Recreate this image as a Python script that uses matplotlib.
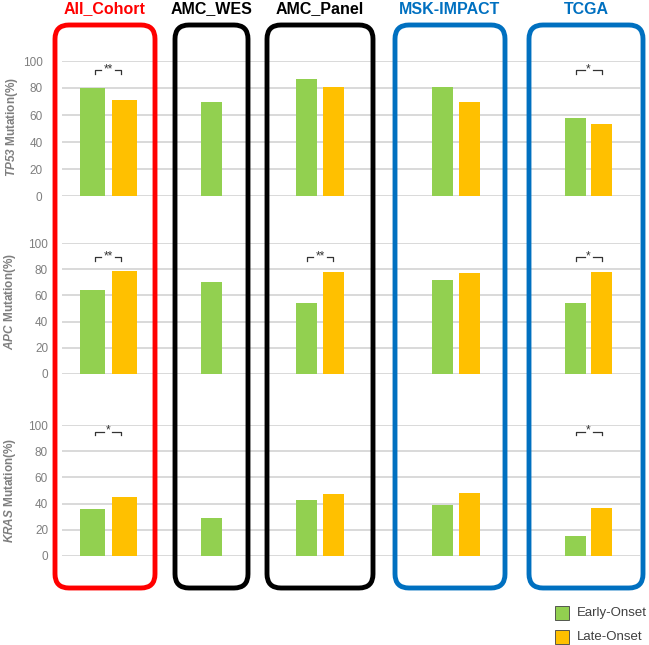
import numpy as np
import matplotlib.pyplot as plt
from matplotlib.patches import FancyBboxPatch, Rectangle

plt.rcParams['font.family'] = ['Liberation Sans', 'DejaVu Sans']
plt.rcParams['mathtext.fontset'] = 'custom'
plt.rcParams['mathtext.it'] = 'Liberation Sans:italic:bold'
plt.rcParams['mathtext.rm'] = 'Liberation Sans:italic:bold'
plt.rcParams['mathtext.bf'] = 'Liberation Sans:italic:bold'

# data
cohorts = ['All_Cohort', 'AMC_WES', 'AMC_Panel', 'MSK-IMPACT', 'TCGA']
genes = ['TP53', 'APC', 'KRAS']
early = {
    'TP53': [80, 70, 87, 81, 58],
    'APC': [64, 70, 54, 72, 54],
    'KRAS': [36, 29, 43, 39, 15],
}
late = {
    'TP53': [71, None, 81, 70, 53],
    'APC': [79, None, 78, 77, 78],
    'KRAS': [45, None, 47, 48, 37],
}
signif = {
    'TP53': ['**', '', '', '', '*'],
    'APC': ['**', '', '**', '', '*'],
    'KRAS': ['*', '', '', '', '*'],
}
sig_height = {'TP53': 93, 'APC': 89, 'KRAS': 95}

green = '#92d050'
orange = '#ffc000'
box_colors = ['#ff0000', '#000000', '#000000', '#0070c0', '#0070c0']

# layout in pixels (figure is 649 x 645)
W, H = 649, 645
centers = [108, 211, 320, 455.5, 588.5]
offsets = [16, 0, 13.5, 13.5, 13]
widths = [25, 21, 21, 21, 21]
boxes = [(55, 155), (175, 248), (267, 373), (395, 505), (529, 643)]
rows = [(61, 196), (243, 374), (425, 556)]
tick_pad = [14, 10, 10]
ylabel_pos = [(12, 127), (10, 302), (10, 490)]

fig = plt.figure(figsize=(W / 100, H / 100), dpi=100)

for r, gene in enumerate(genes):
    top, bot = rows[r]
    ax = fig.add_axes([62 / W, 1 - bot / H, (640 - 62) / W, (bot - top) / H])
    ax.set_xlim(62, 640)
    ax.set_ylim(0, 100)
    for s in ax.spines.values():
        s.set_visible(False)
    ax.set_xticks([])
    ax.set_yticks(np.arange(0, 101, 20))
    ax.tick_params(axis='y', length=0, pad=tick_pad[r], labelsize=8.5, labelcolor='#7f7f7f')
    ax.grid(axis='y', color='#d9d9d9', linewidth=1.4)
    ax.set_axisbelow(True)
    for i in range(len(cohorts)):
        c = centers[i]
        if late[gene][i] is None:
            ax.bar(c, early[gene][i], width=widths[i], color=green, zorder=2)
        else:
            ax.bar(c - offsets[i], early[gene][i], width=widths[i], color=green, zorder=2)
            ax.bar(c + offsets[i], late[gene][i], width=widths[i], color=orange, zorder=2)
        lab = signif[gene][i]
        if lab:
            h = sig_height[gene]
            gap = 4 if lab == '*' else 7
            kw = dict(color='#333333', linewidth=0.9, clip_on=False)
            ax.plot([c - 13, c - 13, c - gap], [h - 2.5, h, h], **kw)
            ax.plot([c + gap, c + 13, c + 13], [h, h, h - 2.5], **kw)
            ax.text(c, h - 4, lab, ha='center', va='bottom', fontsize=8.5,
                    color='#333333', clip_on=False)

# overlay for boxes, titles, labels and legend
ov = fig.add_axes([0, 0, 1, 1], zorder=5)
ov.set_xlim(0, W)
ov.set_ylim(H, 0)
ov.axis('off')
ov.patch.set_alpha(0)

for i, name in enumerate(cohorts):
    x0, x1 = boxes[i]
    ov.add_patch(FancyBboxPatch((x0 + 14, 25 + 14), x1 - x0 - 28, 563 - 28,
                                boxstyle='round,pad=14', fill=False,
                                edgecolor=box_colors[i], linewidth=3.5))
    ov.text((x0 + x1) / 2, 9, name, ha='center', va='center', fontsize=11.5,
            fontweight='bold', color=box_colors[i])

for r, gene in enumerate(genes):
    x, y = ylabel_pos[r]
    ov.text(x, y, r'$' + gene + r'$ Mutation(%)', rotation=90, ha='center',
            va='center', fontsize=8.5, fontweight='bold', color='#7f7f7f')

legend_items = [('Early-Onset', green), ('Late-Onset', orange)]
for k, (lab, col) in enumerate(legend_items):
    y0 = 606 + k * 24
    ov.add_patch(Rectangle((555, y0), 14, 14, facecolor=col, edgecolor='#404040', linewidth=0.6))
    ov.text(577, y0 + 7, lab, ha='left', va='center', fontsize=9.5, color='#404040')

fig.savefig('out.png', dpi=100)
